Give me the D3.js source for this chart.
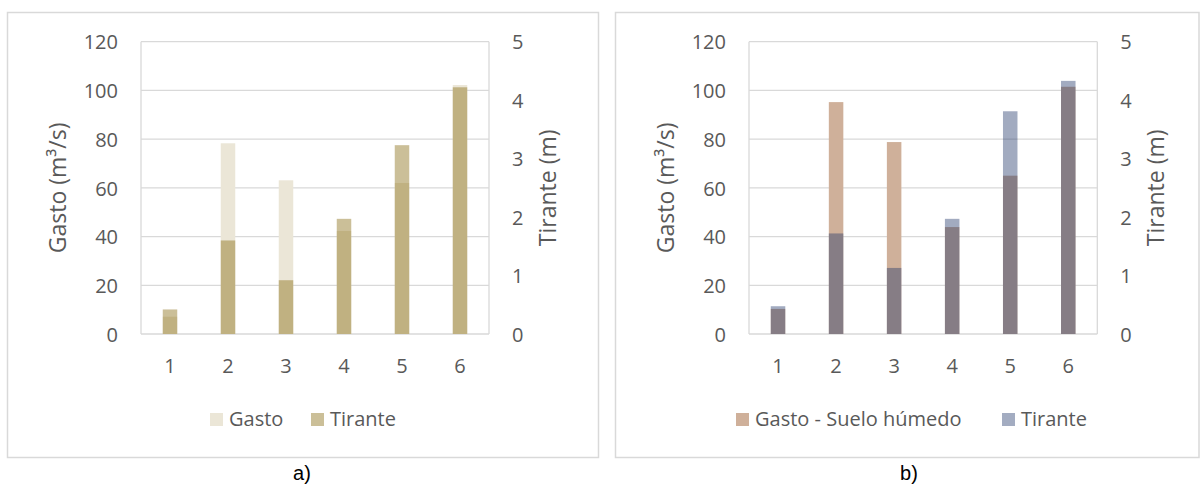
<!DOCTYPE html>
<html>
<head>
<meta charset="utf-8">
<script src="https://cdn.jsdelivr.net/npm/d3@7"></script>
<style>
  html, body { margin: 0; padding: 0; background: #fff; }
  svg { display: block; }
</style>
</head>
<body>
<svg id="chart" width="1201" height="486"></svg>
<script>
// ---- data ----
const categories = ["1", "2", "3", "4", "5", "6"];
const gastoA = [7.1, 78.3, 63.1, 42.3, 62.0, 102.2];
const tiranteA = [0.42, 1.60, 0.92, 1.97, 3.23, 4.22];
const gastoB = [10.3, 95.2, 78.8, 43.9, 65.0, 101.5];
const tiranteB = [0.475, 1.72, 1.13, 1.97, 3.81, 4.33];
const gastoTicks = [0, 20, 40, 60, 80, 100, 120];
const tiranteTicks = [0, 1, 2, 3, 4, 5];
const legendA = ["Gasto", "Tirante"];
const legendB = ["Gasto - Suelo húmedo", "Tirante"];
const captions = ["a)", "b)"];

const svg = d3.select("#chart");
const FONT = "'Open Sans', 'Noto Sans', sans-serif";
const TEXT = "#595959";
const GRID = "#d9d9d9";

function drawPanel(cfg) {
  const g = svg.append("g");
  // outer frame
  g.append("rect")
    .attr("x", cfg.box[0]).attr("y", cfg.box[1])
    .attr("width", cfg.box[2]).attr("height", cfg.box[3])
    .attr("fill", "none").attr("stroke", GRID).attr("stroke-width", 1.5);

  const x = d3.scaleBand().domain(categories)
    .range([cfg.left, cfg.right]).paddingInner(0.75).paddingOuter(0.375);
  const y1 = d3.scaleLinear().domain([0, 120]).range([cfg.bottom, cfg.top]);
  const y2 = d3.scaleLinear().domain([0, 5]).range([cfg.bottom, cfg.top]);

  // gridlines
  g.append("g").selectAll("line").data(gastoTicks).join("line")
    .attr("x1", cfg.left).attr("x2", cfg.right)
    .attr("y1", d => y1(d)).attr("y2", d => y1(d))
    .attr("stroke", GRID).attr("stroke-width", 1.3);
  // plot area sides
  [cfg.left, cfg.right].forEach(xx => {
    g.append("line").attr("x1", xx).attr("x2", xx)
      .attr("y1", cfg.top).attr("y2", cfg.bottom)
      .attr("stroke", GRID).attr("stroke-width", 1.3);
  });

  // primary series (gasto)
  g.append("g").selectAll("rect").data(cfg.gasto).join("rect")
    .attr("x", (d, i) => x(categories[i]))
    .attr("width", x.bandwidth())
    .attr("y", d => y1(d))
    .attr("height", d => y1(0) - y1(d))
    .attr("fill", cfg.gastoColor);
  // secondary series (tirante), translucent, drawn on top
  g.append("g").selectAll("rect").data(cfg.tirante).join("rect")
    .attr("x", (d, i) => x(categories[i]))
    .attr("width", x.bandwidth())
    .attr("y", d => y2(d))
    .attr("height", d => y2(0) - y2(d))
    .attr("fill", cfg.tiranteColor)
    .attr("fill-opacity", cfg.tiranteOpacity);

  // left axis
  const axL = g.append("g").attr("transform", `translate(${cfg.left - 23},0)`)
    .call(d3.axisLeft(y1).tickValues(gastoTicks).tickFormat(d3.format("d")).tickSize(0).tickPadding(0));
  // right axis
  const axR = g.append("g").attr("transform", `translate(${cfg.right + 23},0)`)
    .call(d3.axisRight(y2).tickValues(tiranteTicks).tickFormat(d3.format("d")).tickSize(0).tickPadding(0));
  // bottom axis
  const axB = g.append("g").attr("transform", `translate(0,${cfg.bottom})`)
    .call(d3.axisBottom(x).tickSize(0).tickPadding(0));
  [axL, axR, axB].forEach(a => {
    a.select(".domain").remove();
    a.selectAll("text").attr("fill", TEXT).attr("font-family", FONT).attr("font-size", 20);
  });
  axL.selectAll("text").attr("dy", "0.36em");
  axR.selectAll("text").attr("dy", "0.36em");
  axB.selectAll("text").attr("dy", 0).attr("y", 39);

  // axis titles
  g.append("text")
    .attr("transform", `translate(${cfg.left - 75},${(cfg.top + cfg.bottom) / 2}) rotate(-90)`)
    .attr("text-anchor", "middle").attr("fill", TEXT)
    .attr("font-family", FONT).attr("font-size", 23)
    .text("Gasto (m³/s)");
  g.append("text")
    .attr("transform", `translate(${cfg.right + 67},${(cfg.top + cfg.bottom) / 2}) rotate(-90)`)
    .attr("text-anchor", "middle").attr("fill", TEXT)
    .attr("font-family", FONT).attr("font-size", 23)
    .text("Tirante (m)");

  // legend
  const lg = g.append("g");
  cfg.legend.forEach((name, i) => {
    lg.append("rect").attr("x", cfg.legendX[i]).attr("y", 413)
      .attr("width", 13).attr("height", 13)
      .attr("fill", cfg.legendColors[i]);
    lg.append("text").attr("x", cfg.legendX[i] + 19).attr("y", 426)
      .attr("fill", TEXT).attr("font-family", FONT).attr("font-size", 20)
      .text(name);
  });

  // caption
  g.append("text").attr("x", cfg.captionX).attr("y", 480)
    .attr("text-anchor", "middle").attr("fill", "#000")
    .attr("font-family", "'Liberation Sans', Arial, sans-serif").attr("font-size", 20)
    .text(cfg.caption);
}

drawPanel({
  box: [7.5, 12.5, 591, 445],
  left: 141, right: 489, top: 41.7, bottom: 334,
  gasto: gastoA, tirante: tiranteA,
  gastoColor: "#ebe6d7", tiranteColor: "rgb(137,110,21)", tiranteOpacity: 0.44,
  legend: legendA, legendX: [210, 311], legendColors: ["#ebe6d7", "#cbbf98"],
  caption: captions[0], captionX: 302
});
drawPanel({
  box: [615.5, 12.5, 583.5, 445],
  left: 749, right: 1097.3, top: 41.7, bottom: 334,
  gasto: gastoB, tirante: tiranteB,
  gastoColor: "#cfb09a", tiranteColor: "rgb(34,56,104)", tiranteOpacity: 0.42,
  legend: legendB, legendX: [736, 1002], legendColors: ["#cfb09a", "#a3acc1"],
  caption: captions[1], captionX: 909
});
</script>
</body>
</html>
